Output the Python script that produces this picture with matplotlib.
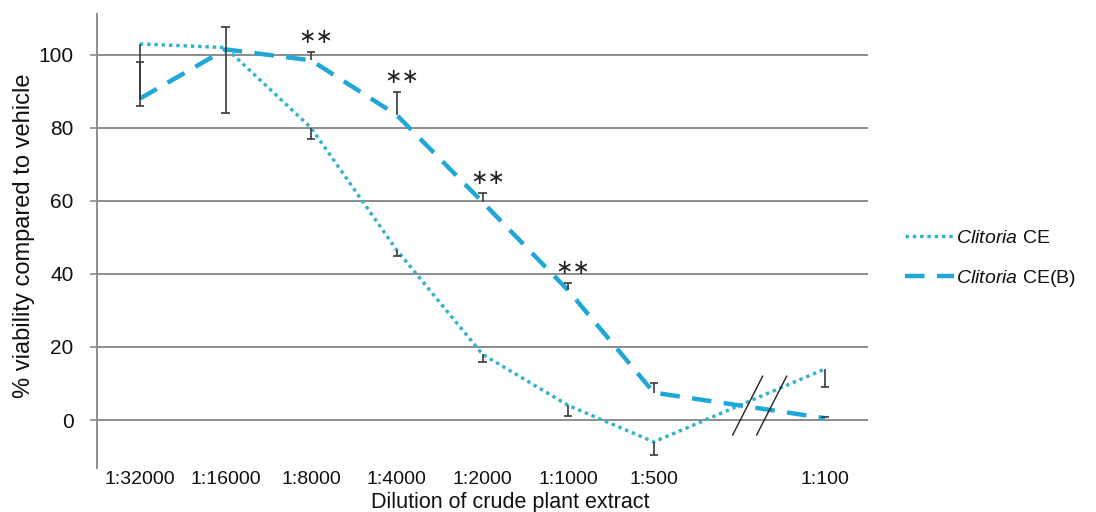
import numpy as np
import matplotlib
matplotlib.use("Agg")
import matplotlib.pyplot as plt

plt.rcParams['font.family'] = ['Liberation Sans', 'DejaVu Sans']
plt.rcParams['mathtext.fontset'] = 'custom'
plt.rcParams['mathtext.it'] = 'Liberation Sans:italic'
plt.rcParams['mathtext.rm'] = 'Liberation Sans'

# Dilution categories (blank slot marks the axis break before 1:100)
categories = ['1:32000', '1:16000', '1:8000', '1:4000', '1:2000',
              '1:1000', '1:500', '', '1:100']

# % viability compared to vehicle
ce_values = [103, 102, 80, 46.5, 18, 4, -6, None, 14]
ce_err_low = [17, 18, 3, 1.5, 2, 3, 3.5, None, 5]

ceb_values = [88, 101.5, 98.5, 83.5, 59.7, 35.5, 7.5, None, 0.5]
ceb_err_high = [10, 6, 2.3, 6.4, 2.5, 2, 2.6, None, 0.3]

# Significance markers over CE(B)
sig_labels = ['', '', '\u2217\u2217', '\u2217\u2217', '\u2217\u2217',
              '\u2217\u2217', '', '', '']

ce_color = '#36b4cb'
ceb_color = '#1fa7d6'
err_color = '#3a3a3a'
grid_color = '#8c8c8c'
text_color = '#111111'

fig = plt.figure(figsize=(10.96, 5.12), dpi=100)
ax = fig.add_axes([0.0885, 0.0859, 0.7035, 0.8868])

idx = [i for i, c in enumerate(categories) if c]
x = np.array(idx, dtype=float)
ce = np.array([ce_values[i] for i in idx], dtype=float)
ce_lo = np.array([ce_err_low[i] for i in idx], dtype=float)
ceb = np.array([ceb_values[i] for i in idx], dtype=float)
ceb_hi = np.array([ceb_err_high[i] for i in idx], dtype=float)

ax.set_xlim(-0.5, len(categories) - 0.5)
ax.set_ylim(-13.15, 111.2)

ax.set_yticks([0, 20, 40, 60, 80, 100])
ax.yaxis.grid(True, color=grid_color, linewidth=1.4)
ax.set_axisbelow(True)

l1, = ax.plot(x, ce, color=ce_color, linewidth=2.5,
              linestyle=(0, (1, 1.1)), zorder=3)
l2, = ax.plot(x, ceb, color=ceb_color, linewidth=3.2,
              linestyle=(0, (4.4, 2.8)), zorder=3)


def one_sided_bars(xs, ys, ends, cap=0.048):
    # vertical stem from the point to the error end, cap only at the end
    ax.vlines(xs, ys, ends, color=err_color, linewidth=1.2, zorder=4)
    ax.hlines(ends, xs - cap, xs + cap, color=err_color, linewidth=1.2, zorder=4)


one_sided_bars(x, ce, ce - ce_lo)
one_sided_bars(x, ceb, ceb + ceb_hi)

for i in idx:
    if sig_labels[i]:
        top = ceb_values[i] + ceb_err_high[i]
        ax.text(i + 0.06, top + 1.3, sig_labels[i], ha='center', va='bottom',
                fontsize=15, color='#222222', family='DejaVu Sans')

# Axis break marks at the blank category
gap = categories.index('')
for dx in (-0.08, 0.20):
    ax.plot([gap + dx, gap + dx + 0.35], [-4.1, 12.0], color='#222222',
            linewidth=1.0, zorder=5, clip_on=False)

ax.set_xticks(idx)
ax.set_xticklabels([categories[i] for i in idx])
ax.tick_params(axis='x', length=0, pad=2, labelsize=14, colors=text_color)
ax.tick_params(axis='y', length=5, width=1.2, color=grid_color, pad=12,
               labelsize=15, labelcolor=text_color)

for s in ('top', 'right', 'bottom'):
    ax.spines[s].set_visible(False)
ax.spines['left'].set_color(grid_color)
ax.spines['left'].set_linewidth(1.4)

ax.set_xlabel('Dilution of crude plant extract', fontsize=15.5,
              color=text_color)
ax.xaxis.set_label_coords(0.536, -0.077)
ax.xaxis.label.set_verticalalignment('center')

ax.set_ylabel('% viability compared to vehicle', fontsize=17,
              color=text_color)
ax.yaxis.set_label_coords(-0.0947, 0.511)
ax.yaxis.label.set_verticalalignment('center')

leg = fig.legend([l1, l2], [r'$\it{Clitoria}$ CE', r'$\it{Clitoria}$ CE(B)'],
                 loc='center left', bbox_to_anchor=(0.81, 0.494),
                 frameon=False, fontsize=14, handlelength=2.5,
                 handletextpad=0.1, labelspacing=1.1)
for t in leg.get_texts():
    t.set_color(text_color)

fig.savefig('out.png', dpi=100, facecolor='white')
